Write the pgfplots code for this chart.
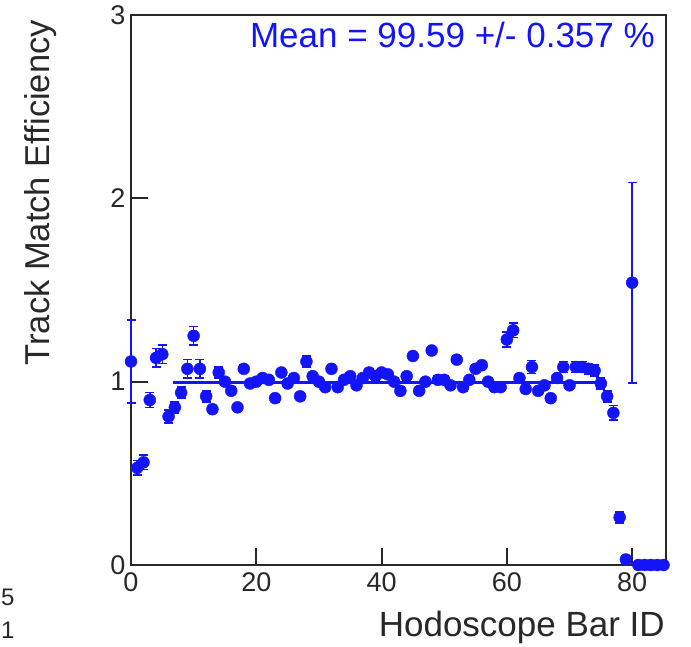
\documentclass[border=0pt]{standalone}
\usepackage{pgfplots}
\pgfplotsset{compat=1.18}
\usepackage{pgfplotstable}
\usepackage{fontspec}
\setmainfont{Liberation Sans}
\definecolor{rootblue}{RGB}{20,20,250}
\definecolor{axgray}{RGB}{40,40,40}
\pgfplotstableread{
x y e
0 1.11 0.227
1 0.53 0.04
2 0.56 0.04
3 0.90 0.04
4 1.13 0.05
5 1.15 0.05
6 0.81 0.035
7 0.86 0.03
8 0.94 0.03
9 1.07 0.05
10 1.25 0.05
11 1.07 0.05
12 0.92 0.03
13 0.85 0.02
14 1.05 0.03
15 1.00 0.02
16 0.95 0.02
17 0.86 0.02
18 1.07 0.02
19 0.99 0.02
20 1.00 0.02
21 1.02 0.02
22 1.01 0.02
23 0.91 0.02
24 1.05 0.02
25 0.99 0.02
26 1.02 0.02
27 0.92 0.02
28 1.11 0.03
29 1.03 0.02
30 1.00 0.02
31 0.97 0.02
32 1.07 0.02
33 0.97 0.02
34 1.01 0.02
35 1.03 0.02
36 0.98 0.02
37 1.02 0.02
38 1.05 0.02
39 1.03 0.02
40 1.05 0.02
41 1.04 0.02
42 1.00 0.02
43 0.95 0.02
44 1.03 0.02
45 1.14 0.02
46 0.95 0.02
47 1.00 0.02
48 1.17 0.02
49 1.01 0.02
50 1.01 0.02
51 0.98 0.02
52 1.12 0.02
53 0.97 0.02
54 1.01 0.02
55 1.07 0.02
56 1.09 0.02
57 1.00 0.02
58 0.97 0.02
59 0.97 0.02
60 1.23 0.04
61 1.28 0.04
62 1.02 0.02
63 0.96 0.02
64 1.08 0.035
65 0.95 0.02
66 0.98 0.02
67 0.91 0.02
68 1.02 0.02
69 1.08 0.03
70 0.98 0.02
71 1.08 0.03
72 1.08 0.03
73 1.07 0.03
74 1.06 0.03
75 0.99 0.03
76 0.92 0.03
77 0.83 0.04
78 0.26 0.03
79 0.03 0.02
80 1.54 0.546
81 0.00 0.0
82 0.00 0.0
83 0.00 0.0
84 0.00 0.0
85 0.00 0.0
}\effdata
\begin{document}
\begin{tikzpicture}
\path[use as bounding box] (0,0) rectangle (691bp,647bp);
\begin{axis}[
  at={(131bp,82bp)}, anchor=south west,
  scale only axis, width=535bp, height=550bp,
  xmin=0, xmax=85.4, ymin=0, ymax=3,
  xtick={0,20,40,60,80}, ytick={0,1,2,3},
  minor tick num=0,
  tick align=inside, tick pos=left,
  major tick length=17bp,
  axis line style={line width=2.5bp, axgray},
  every tick/.style={line width=2bp, axgray},
  ticklabel style={font=\fontsize{27bp}{29bp}\selectfont, text=axgray},
  xticklabel style={yshift=-4bp},
  yticklabel style={xshift=-2bp},
  /pgf/number format/assume math mode=true,
  clip=false,
]
\addplot[rootblue, line width=3bp] coordinates {(6.7,0.9959) (75,0.9959)};
\addplot[only marks, mark=*, color=rootblue, mark size=6bp,
  error bars/.cd, y dir=both, y explicit,
  error bar style={line width=1.6bp, rootblue},
  error mark options={rotate=90, mark size=4.5bp, line width=1.6bp, rootblue}]
  table[x=x, y=y, y error=e] {\effdata};
\end{axis}
\node[rotate=90, anchor=north east, inner sep=0pt, text=axgray,
  font=\fontsize{34.5bp}{36bp}\selectfont] at (24bp,627bp) {Track Match Efficiency};
\node[anchor=north east, inner sep=0pt, text=axgray,
  font=\fontsize{35bp}{37bp}\selectfont] at (665bp,36bp) {Hodoscope Bar ID};
\node[anchor=north east, inner sep=0pt, text=rootblue,
  font=\fontsize{35bp}{37bp}\selectfont] at (655bp,625bp) {Mean = 99.59 +/- 0.357 \%};
\node[anchor=west, inner sep=0pt, text=axgray,
  font=\fontsize{24bp}{26bp}\selectfont] at (1bp,50bp) {5};
\node[anchor=west, inner sep=0pt, text=axgray,
  font=\fontsize{24bp}{26bp}\selectfont] at (1bp,17bp) {1};
\end{tikzpicture}
\end{document}
